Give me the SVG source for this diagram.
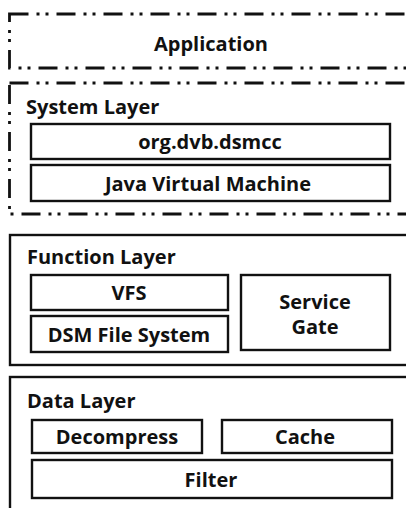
<svg xmlns="http://www.w3.org/2000/svg" width="406" height="508" viewBox="0 0 406 508">
<style>
text{font-family:"Open Sans","Noto Sans","Liberation Sans",sans-serif;font-weight:bold;fill:#111;}
.c{text-anchor:middle;font-size:20px;}
.t{font-size:20px;}
.dd{fill:none;stroke:#111;stroke-width:2.8;stroke-dasharray:19 8 3 6 3 8;}
.box{fill:none;stroke:#111;stroke-width:2.4;}
</style>
<rect width="406" height="508" fill="#fff"/>
<g id="application">
<rect class="dd" x="9.5" y="14" width="420" height="54"/>
<text class="c" x="211" y="51">Application</text>
</g>
<g id="system-layer">
<rect class="dd" x="9.5" y="83" width="420" height="131"/>
<text class="t" x="26" y="114">System Layer</text>
</g>
<g id="org-dvb-dsmcc">
<rect class="box" x="31" y="124" width="359" height="35"/>
<text class="c" x="210" y="149">org.dvb.dsmcc</text>
</g>
<g id="jvm">
<rect class="box" x="31" y="165" width="359" height="36"/>
<text class="c" x="208" y="191">Java Virtual Machine</text>
</g>
<g id="function-layer">
<rect class="box" x="10" y="235" width="420" height="130"/>
<text class="t" x="27" y="264">Function Layer</text>
</g>
<g id="vfs">
<rect class="box" x="31" y="275" width="197" height="35"/>
<text class="c" x="129" y="300">VFS</text>
</g>
<g id="dsm-file-system">
<rect class="box" x="31" y="316" width="197" height="36"/>
<text class="c" x="129" y="342">DSM File System</text>
</g>
<g id="service-gate">
<rect class="box" x="241" y="275" width="149" height="75"/>
<text class="c" x="315" y="309">Service</text>
<text class="c" x="315" y="334">Gate</text>
</g>
<g id="data-layer">
<rect class="box" x="10" y="377" width="420" height="150"/>
<text class="t" x="27" y="408">Data Layer</text>
</g>
<g id="decompress">
<rect class="box" x="32" y="420" width="170" height="33"/>
<text class="c" x="117" y="444">Decompress</text>
</g>
<g id="cache">
<rect class="box" x="222" y="420" width="170" height="33"/>
<text class="c" x="305" y="444">Cache</text>
</g>
<g id="filter">
<rect class="box" x="32" y="460" width="360" height="38"/>
<text class="c" x="211" y="487">Filter</text>
</g>
<g id="connectors"></g>
</svg>
